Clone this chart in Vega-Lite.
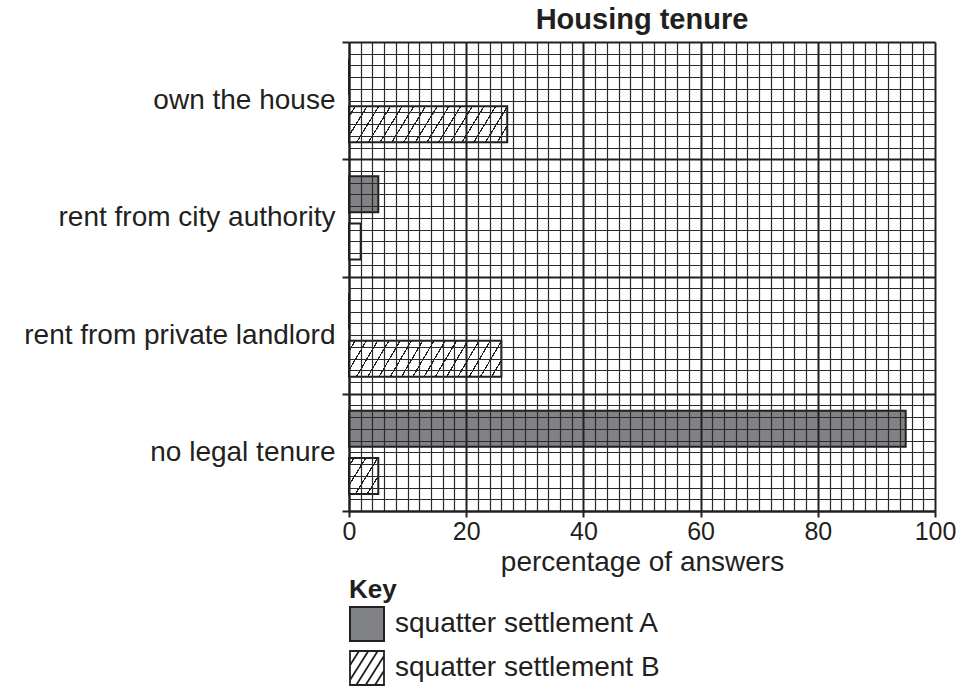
{
  "$schema": "https://vega.github.io/schema/vega-lite/v6.json",
  "width": 586,
  "height": 469,
  "autosize": {"type": "none"},
  "padding": {"left": 349, "top": 42, "right": 28, "bottom": 177},
  "config": {
    "font": "Liberation Sans",
    "view": {"stroke": null},
    "title": {"font": "Liberation Sans"},
    "axis": {"labelFont": "Liberation Sans", "titleFont": "Liberation Sans"},
    "legend": {"labelFont": "Liberation Sans", "titleFont": "Liberation Sans"}
  },
  "title": {
    "text": "Housing tenure",
    "fontSize": 29,
    "fontWeight": "bold",
    "color": "#231f20",
    "anchor": "middle",
    "offset": -7
  },
  "data": {
    "values": [
      {"tenure": "own the house", "series": "squatter settlement A", "pct": 0},
      {"tenure": "own the house", "series": "squatter settlement B", "pct": 27},
      {"tenure": "rent from city authority", "series": "squatter settlement A", "pct": 5},
      {"tenure": "rent from city authority", "series": "squatter settlement B", "pct": 2},
      {"tenure": "rent from private landlord", "series": "squatter settlement A", "pct": 0},
      {"tenure": "rent from private landlord", "series": "squatter settlement B", "pct": 26},
      {"tenure": "no legal tenure", "series": "squatter settlement A", "pct": 95},
      {"tenure": "no legal tenure", "series": "squatter settlement B", "pct": 5}
    ]
  },
  "layer": [
    {
      "encoding": {
        "y": {
          "field": "tenure",
          "type": "nominal",
          "sort": ["own the house", "rent from city authority", "rent from private landlord", "no legal tenure"],
          "scale": {"paddingInner": 0, "paddingOuter": 0},
          "axis": {
            "title": null,
            "tickBand": "extent",
            "tickSize": 7,
            "tickWidth": 2,
            "tickColor": "#231f20",
            "domainWidth": 2,
            "domainColor": "#231f20",
            "labelFontSize": 28,
            "labelPadding": 7,
            "labelColor": "#231f20",
            "labelLimit": 0,
            "grid": false
          }
        },
        "yOffset": {
          "field": "series",
          "type": "nominal",
          "scale": {"domain": ["squatter settlement A", "squatter settlement B"], "paddingInner": 0.234, "paddingOuter": 0.362}
        },
        "x": {
          "field": "pct",
          "type": "quantitative",
          "scale": {"domain": [0, 100], "nice": false},
          "axis": {
            "values": [0,2,4,6,8,10,12,14,16,18,20,22,24,26,28,30,32,34,36,38,40,42,44,46,48,50,52,54,56,58,60,62,64,66,68,70,72,74,76,78,80,82,84,86,88,90,92,94,96,98,100],
            "grid": true,
            "gridColor": {"condition": {"test": "datum.value % 20 === 0", "value": "#231f20"}, "value": "#2a2a2a"},
            "gridWidth": {"condition": {"test": "datum.value % 20 === 0", "value": 2}, "value": 1.2},
            "gridOpacity": 1,
            "tickSize": {"condition": {"test": "datum.value % 20 === 0", "value": 6}, "value": 0},
            "tickWidth": 2,
            "tickColor": "#231f20",
            "labelExpr": "datum.value % 20 === 0 ? datum.label : ''",
            "labelOverlap": false,
            "labelFlush": false,
            "labelFontSize": 25,
            "labelPadding": 2,
            "labelColor": "#231f20",
            "title": "percentage of answers",
            "titleFontSize": 28,
            "titleFontWeight": "normal",
            "titleColor": "#231f20",
            "titlePadding": 4,
            "domainWidth": 2,
            "domainColor": "#231f20",
            "zindex": 1
          }
        }
      },
      "layer": [
        {
          "transform": [{"filter": "datum.series === 'squatter settlement A'"}],
          "mark": {"type": "bar", "stroke": "#231f20", "strokeWidth": 2},
          "encoding": {
            "fill": {
              "field": "series",
              "type": "nominal",
              "scale": {"range": ["#808285"]},
              "legend": {
                "title": "Key",
                "orient": "none",
                "legendX": 0,
                "legendY": 535,
                "direction": "vertical",
                "padding": 0,
                "titleFontSize": 26,
                "titleFontWeight": "bold",
                "titleColor": "#231f20",
                "titlePadding": 3,
                "labelFontSize": 28,
                "labelColor": "#231f20",
                "labelOffset": 10,
                "labelLimit": 0,
                "symbolType": "square",
                "symbolSize": 1156,
                "symbolStrokeColor": "#231f20",
                "symbolStrokeWidth": 2,
                "symbolOpacity": 1
              }
            }
          }
        },
        {
          "transform": [{"filter": "datum.series === 'squatter settlement B'"}],
          "mark": {"type": "bar", "strokeWidth": 2},
          "encoding": {
            "stroke": {
              "field": "series",
              "type": "nominal",
              "scale": {"range": ["#231f20"]},
              "legend": {
                "title": null,
                "orient": "none",
                "legendX": 0,
                "legendY": 608,
                "direction": "vertical",
                "padding": 0,
                "labelFontSize": 28,
                "labelColor": "#231f20",
                "labelOffset": 10,
                "labelLimit": 0,
                "symbolType": "M-1,-1H1V1H-1ZM-1,-0.16L-0.47,-1M-1,0.71L0.08,-1M-0.63,1L0.63,-1M-0.08,1L1,-0.71M0.47,1L1,0.16",
                "symbolSize": 1156,
                "symbolFillColor": "#ffffff",
                "symbolStrokeWidth": 1.8,
                "symbolOpacity": 1
              }
            },
            "fill": {
              "condition": [
                {"test": "datum.pct > 10", "value": {
                  "gradient": "linear", "x1": 0, "y1": 0, "x2": 1.176, "y2": 0.164,
                  "stops": [
                    {"offset": 0, "color": "#ffffff"},
                    {"offset": 0.030, "color": "#ffffff"}, {"offset": 0.030, "color": "#231f20"}, {"offset": 0.0374, "color": "#231f20"}, {"offset": 0.0374, "color": "#ffffff"},
                    {"offset": 0.0917, "color": "#ffffff"}, {"offset": 0.0917, "color": "#231f20"}, {"offset": 0.0991, "color": "#231f20"}, {"offset": 0.0991, "color": "#ffffff"},
                    {"offset": 0.1534, "color": "#ffffff"}, {"offset": 0.1534, "color": "#231f20"}, {"offset": 0.1608, "color": "#231f20"}, {"offset": 0.1608, "color": "#ffffff"},
                    {"offset": 0.2151, "color": "#ffffff"}, {"offset": 0.2151, "color": "#231f20"}, {"offset": 0.2225, "color": "#231f20"}, {"offset": 0.2225, "color": "#ffffff"},
                    {"offset": 0.2768, "color": "#ffffff"}, {"offset": 0.2768, "color": "#231f20"}, {"offset": 0.2842, "color": "#231f20"}, {"offset": 0.2842, "color": "#ffffff"},
                    {"offset": 0.3385, "color": "#ffffff"}, {"offset": 0.3385, "color": "#231f20"}, {"offset": 0.3459, "color": "#231f20"}, {"offset": 0.3459, "color": "#ffffff"},
                    {"offset": 0.4002, "color": "#ffffff"}, {"offset": 0.4002, "color": "#231f20"}, {"offset": 0.4076, "color": "#231f20"}, {"offset": 0.4076, "color": "#ffffff"},
                    {"offset": 0.4619, "color": "#ffffff"}, {"offset": 0.4619, "color": "#231f20"}, {"offset": 0.4693, "color": "#231f20"}, {"offset": 0.4693, "color": "#ffffff"},
                    {"offset": 0.5236, "color": "#ffffff"}, {"offset": 0.5236, "color": "#231f20"}, {"offset": 0.5310, "color": "#231f20"}, {"offset": 0.5310, "color": "#ffffff"},
                    {"offset": 0.5853, "color": "#ffffff"}, {"offset": 0.5853, "color": "#231f20"}, {"offset": 0.5927, "color": "#231f20"}, {"offset": 0.5927, "color": "#ffffff"},
                    {"offset": 0.6470, "color": "#ffffff"}, {"offset": 0.6470, "color": "#231f20"}, {"offset": 0.6544, "color": "#231f20"}, {"offset": 0.6544, "color": "#ffffff"},
                    {"offset": 0.7087, "color": "#ffffff"}, {"offset": 0.7087, "color": "#231f20"}, {"offset": 0.7161, "color": "#231f20"}, {"offset": 0.7161, "color": "#ffffff"},
                    {"offset": 0.7704, "color": "#ffffff"}, {"offset": 0.7704, "color": "#231f20"}, {"offset": 0.7778, "color": "#231f20"}, {"offset": 0.7778, "color": "#ffffff"},
                    {"offset": 0.8321, "color": "#ffffff"}, {"offset": 0.8321, "color": "#231f20"}, {"offset": 0.8395, "color": "#231f20"}, {"offset": 0.8395, "color": "#ffffff"},
                    {"offset": 0.8938, "color": "#ffffff"}, {"offset": 0.8938, "color": "#231f20"}, {"offset": 0.9012, "color": "#231f20"}, {"offset": 0.9012, "color": "#ffffff"},
                    {"offset": 1, "color": "#ffffff"}
                  ]
                }},
                {"test": "datum.pct > 3", "value": {
                  "gradient": "linear", "x1": 0, "y1": 0, "x2": 1.174, "y2": 0.892,
                  "stops": [
                    {"offset": 0, "color": "#ffffff"},
                    {"offset": 0.08, "color": "#ffffff"}, {"offset": 0.08, "color": "#231f20"}, {"offset": 0.106, "color": "#231f20"}, {"offset": 0.106, "color": "#ffffff"},
                    {"offset": 0.298, "color": "#ffffff"}, {"offset": 0.298, "color": "#231f20"}, {"offset": 0.324, "color": "#231f20"}, {"offset": 0.324, "color": "#ffffff"},
                    {"offset": 0.516, "color": "#ffffff"}, {"offset": 0.516, "color": "#231f20"}, {"offset": 0.542, "color": "#231f20"}, {"offset": 0.542, "color": "#ffffff"},
                    {"offset": 0.734, "color": "#ffffff"}, {"offset": 0.734, "color": "#231f20"}, {"offset": 0.76, "color": "#231f20"}, {"offset": 0.76, "color": "#ffffff"},
                    {"offset": 1, "color": "#ffffff"}
                  ]
                }}
              ],
              "value": "#ffffff"
            }
          }
        }
      ]
    },
    {
      "mark": {"type": "rule", "opacity": 0},
      "encoding": {
        "y": {
          "datum": 0,
          "type": "quantitative",
          "scale": {"domain": [0, 40], "nice": false},
          "axis": {
            "orient": "right",
            "values": [0,1,2,3,4,5,6,7,8,9,10,11,12,13,14,15,16,17,18,19,20,21,22,23,24,25,26,27,28,29,30,31,32,33,34,35,36,37,38,39,40],
            "grid": true,
            "gridColor": {"condition": {"test": "datum.value % 10 === 0", "value": "#231f20"}, "value": "#2a2a2a"},
            "gridWidth": {"condition": {"test": "datum.value % 10 === 0", "value": 2}, "value": 1.2},
            "gridOpacity": 1,
            "labels": false,
            "ticks": false,
            "domain": false,
            "title": null,
            "zindex": 1
          }
        }
      }
    }
  ],
  "resolve": {"scale": {"y": "independent"}, "axis": {"y": "independent"}}
}
